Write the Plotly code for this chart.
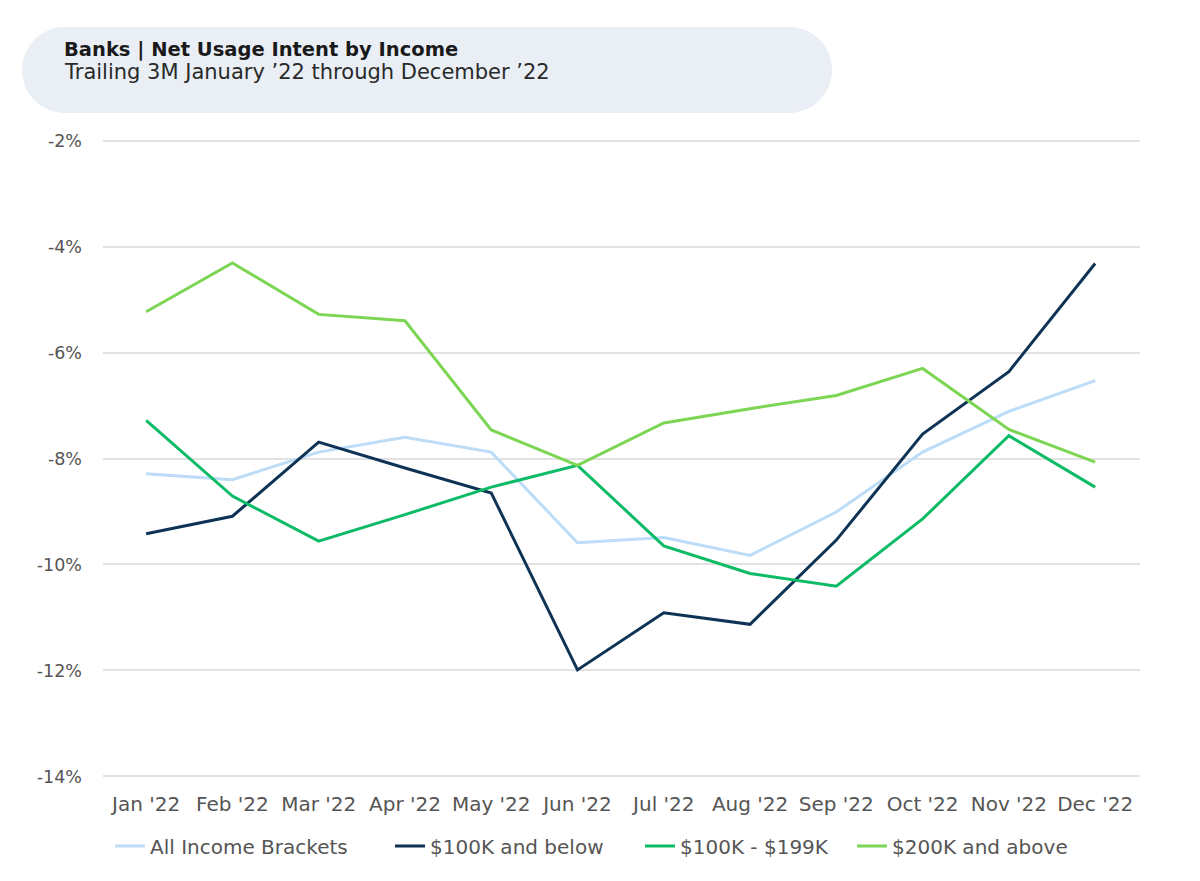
import plotly.graph_objects as go

months = ["Jan '22", "Feb '22", "Mar '22", "Apr '22", "May '22", "Jun '22",
          "Jul '22", "Aug '22", "Sep '22", "Oct '22", "Nov '22", "Dec '22"]

all_income = [-8.29, -8.40, -7.88, -7.60, -7.88, -9.59, -9.49, -9.83, -9.01, -7.88, -7.11, -6.53]
below_100k = [-9.42, -9.09, -7.69, -8.18, -8.65, -11.99, -10.91, -11.13, -9.54, -7.54, -6.36, -4.32]
mid_100_199k = [-7.28, -8.71, -9.56, -9.06, -8.54, -8.13, -9.65, -10.17, -10.41, -9.14, -7.57, -8.54]
above_200k = [-5.23, -4.31, -5.28, -5.40, -7.46, -8.13, -7.33, -7.06, -6.81, -6.30, -7.45, -8.07]

series_names = ["All Income Brackets", "$100K and below", "$100K - $199K", "$200K and above"]
series_values = [all_income, below_100k, mid_100_199k, above_200k]
series_colors = ["#bcdcf8", "#0e3355", "#0dbb67", "#7dd554"]

FONT = "DejaVu Sans"
W, H = 1200, 881
L, R, T, B = 103, 60, 139, 103
pw, ph = W - L - R, H - T - B

def px2paper(x, y):
    return (x - L) / pw, (H - B - y) / ph

legend_ids = ["legend", "legend2", "legend3", "legend4"]
legend_px = [110, 390, 640, 852]

fig = go.Figure()
for name, vals, col, lid in zip(series_names, series_values, series_colors, legend_ids):
    fig.add_trace(go.Scatter(x=months, y=vals, name=name, mode="lines",
                             line=dict(color=col, width=3), legend=lid))

# pill shaped title box
x0, x1, y0, y1 = 22, 832, 27, 113
r = (y1 - y0) / 2
k = 0.5523 * r
def P(x, y):
    px, py = px2paper(x, y)
    return f"{px:.5f},{py:.5f}"
path = (f"M {P(x0 + r, y0)} L {P(x1 - r, y0)} "
        f"C {P(x1 - r + k, y0)} {P(x1, y0 + r - k)} {P(x1, y0 + r)} "
        f"C {P(x1, y0 + r + k)} {P(x1 - r + k, y1)} {P(x1 - r, y1)} "
        f"L {P(x0 + r, y1)} "
        f"C {P(x0 + r - k, y1)} {P(x0, y0 + r + k)} {P(x0, y0 + r)} "
        f"C {P(x0, y0 + r - k)} {P(x0 + r - k, y0)} {P(x0 + r, y0)} Z")
fig.add_shape(type="path", path=path, xref="paper", yref="paper",
              fillcolor="#e9eff5", line=dict(width=0), layer="below")

tx, ty = px2paper(62, 50)
fig.add_annotation(text="<b>Banks | Net Usage Intent by Income</b>", xref="paper", yref="paper",
                   x=tx, y=ty, xanchor="left", yanchor="middle", showarrow=False,
                   font=dict(family=FONT, size=19.5, color="#1a1a1a"))
sx, sy = px2paper(62, 72)
fig.add_annotation(text="Trailing 3M January ’22 through December ’22", xref="paper", yref="paper",
                   x=sx, y=sy, xanchor="left", yanchor="middle", showarrow=False,
                   font=dict(family=FONT, size=21, color="#2a2a2a"))

legend_layout = {}
for lid, lpx in zip(legend_ids, legend_px):
    lx, ly = px2paper(lpx, 846)
    legend_layout[lid] = dict(orientation="h", x=lx, y=ly, xanchor="left", yanchor="middle",
                              font=dict(family=FONT, size=20, color="#555555"),
                              bgcolor="rgba(0,0,0,0)", borderwidth=0)

fig.update_layout(
    width=W, height=H,
    margin=dict(l=L, r=R, t=T, b=B),
    paper_bgcolor="white", plot_bgcolor="white",
    font=dict(family=FONT, size=17, color="#555555"),
    xaxis=dict(type="category", range=[-0.5, 11.52], showgrid=False, zeroline=False,
               showline=False, ticks="", ticklabelstandoff=12,
               tickfont=dict(size=20, color="#555555")),
    yaxis=dict(range=[-14.03, -1.97], tickvals=[-14, -12, -10, -8, -6, -4, -2],
               ticktext=["-14%", "-12%", "-10%", "-8%", "-6%", "-4%", "-2%"],
               showgrid=True, gridcolor="#e2e2e2", gridwidth=1.5, zeroline=False,
               showline=False, ticks="", ticklabelstandoff=20,
               tickfont=dict(size=17.5, color="#555555")),
    showlegend=True,
    **legend_layout,
)

fig.write_html("out.html")
